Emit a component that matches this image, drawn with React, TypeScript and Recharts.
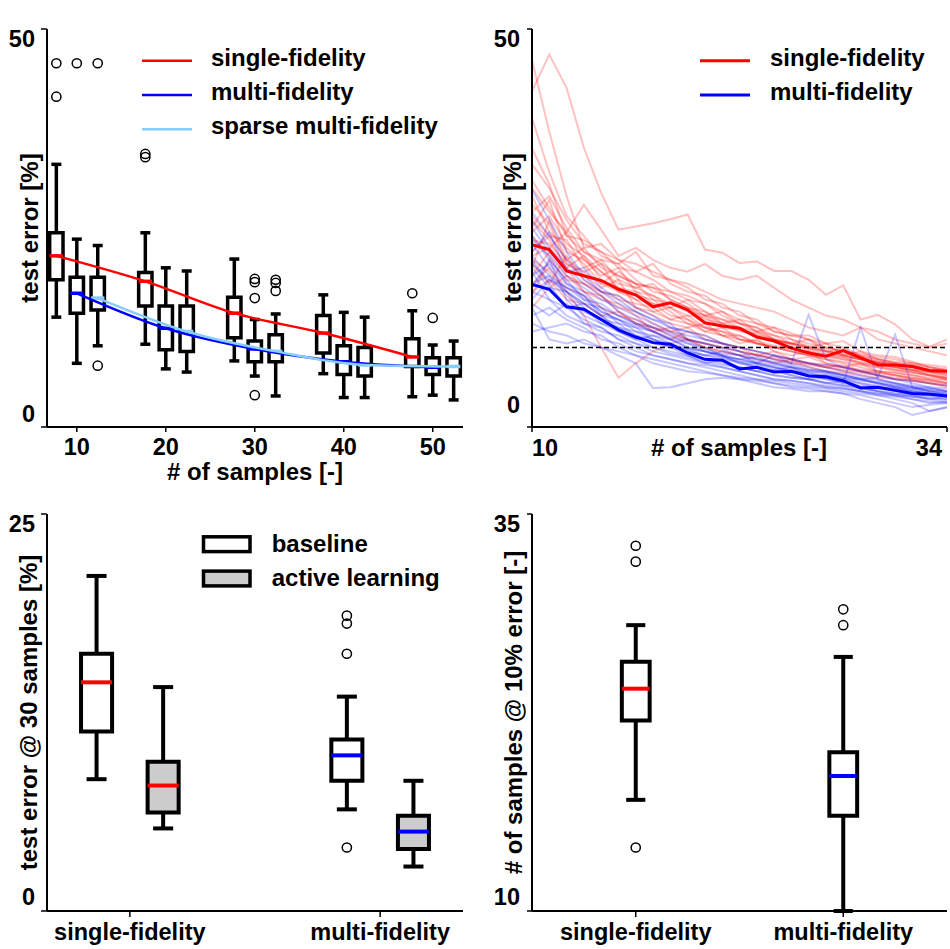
import React from "react";
import {
  ComposedChart,
  Legend,
  Line,
  ReferenceArea,
  ReferenceLine,
  Scatter,
  XAxis,
  YAxis,
} from "recharts";

const FONT = "'Liberation Sans', Arial, Helvetica, sans-serif";
const TXT = { fontFamily: FONT, fontWeight: 700, fontSize: 24, fill: "#000" };
const TICK_TXT = { ...TXT, fontSize: 23.5 };
const RED = "#ff0000";
const BLUE = "#0000ff";
const SKY = "#87cefa";

// ---------- baseline panel (box plots per sample budget) ----------
const sampleGroups = [10, 20, 30, 40, 50];
// [whisker low, q1, median, q3, whisker high]
const singleBase = [
  [13.8, 18.5, 21.5, 24.4, 33.0],
  [10.4, 15.2, 18.3, 19.4, 24.4],
  [8.3, 11.2, 14.3, 16.3, 21.1],
  [6.7, 9.3, 11.8, 14.0, 16.6],
  [3.8, 7.6, 8.8, 11.1, 14.6],
];
const multiBase = [
  [8.0, 14.3, 16.8, 18.8, 23.6],
  [7.3, 9.7, 12.4, 15.2, 20.0],
  [6.4, 8.2, 9.8, 10.8, 13.5],
  [3.7, 6.6, 8.2, 10.2, 14.4],
  [4.0, 6.6, 7.5, 8.7, 10.3],
];
const sparseBase = [
  [10.2, 14.7, 16.2, 18.8, 22.8],
  [6.9, 9.5, 12.0, 15.2, 19.6],
  [3.9, 8.2, 9.5, 11.6, 14.2],
  [3.7, 6.4, 7.8, 10.0, 13.8],
  [3.4, 6.4, 7.6, 8.7, 10.8],
];
const singleBaseOutliers = [[45.7, 41.5], [34.3, 33.9], [], [], [16.8]];
const multiBaseOutliers = [[45.7], [], [18.6, 18.2, 16.2, 4.0], [], [13.7]];
const sparseBaseOutliers = [[45.7, 7.7], [], [18.5, 18.1, 17.1], [], []];

const baseSeries = [
  { name: "single-fidelity", color: RED, offset: -2.3, stats: singleBase, outliers: singleBaseOutliers },
  { name: "multi-fidelity", color: BLUE, offset: 0, stats: multiBase, outliers: multiBaseOutliers },
  { name: "sparse multi-fidelity", color: SKY, offset: 2.35, stats: sparseBase, outliers: sparseBaseOutliers },
];

// ---------- active learning panel (individual runs + means) ----------
const steps = [10, 11, 12, 13, 14, 15, 16, 17, 18, 19, 20, 21, 22, 23, 24, 25, 26, 27, 28, 29, 30, 31, 32, 33, 34];
const singleActiveMean = [22.9, 22.3, 19.6, 19.0, 18.4, 17.3, 16.6, 15.1, 15.6, 14.7, 13.1, 12.7, 12.4, 11.3, 10.8, 9.9, 9.3, 8.9, 9.6, 8.7, 7.8, 7.8, 7.6, 7.1, 7.0];
const multiActiveMean = [17.9, 17.3, 15.1, 14.8, 13.5, 12.2, 11.3, 10.6, 10.4, 9.3, 8.5, 8.4, 7.3, 7.5, 6.9, 7.0, 6.4, 6.3, 5.8, 4.9, 5.0, 4.6, 4.2, 4.1, 3.9];
const singleActiveRuns = [
  [42.2, 46.8, 42.6, 35.1, 29.4, 24.8, 25.2, 25.6, 26.1, 26.7, 22.3, 21.9, 20.6, 20.8, 19.6, 19.6, 18.5, 16.6, 17.8, 13.5, 14.1, 12.9, 11.0, 10.1, 11.0],
  [46.1, 37.1, 29.0, 22.5, 23.0, 21.0, 19.5, 20.5, 18.0, 17.0, 16.5, 15.0, 14.5, 13.0, 12.5, 11.8, 11.0, 10.5, 10.8, 9.5, 9.0, 8.8, 8.2, 7.5, 7.2],
  [38.8, 32.0, 26.5, 24.0, 21.5, 20.5, 22.0, 19.0, 18.5, 17.5, 16.0, 15.5, 14.0, 13.5, 12.0, 11.5, 11.0, 10.0, 9.5, 9.0, 8.5, 8.0, 7.8, 7.5, 7.0],
  [30.0, 27.0, 24.5, 27.9, 24.8, 21.5, 22.5, 21.0, 20.0, 19.5, 20.5, 19.0, 18.5, 19.0, 17.5, 16.0, 15.0, 14.0, 13.5, 12.5, 11.0, 10.5, 10.0, 9.5, 9.0],
  [25.0, 28.5, 22.0, 21.0, 19.0, 20.0, 17.0, 16.5, 15.0, 16.0, 14.5, 13.0, 13.5, 12.0, 11.5, 10.5, 11.0, 9.5, 9.0, 9.5, 8.5, 8.0, 7.5, 7.0, 6.8],
  [22.0, 24.0, 23.5, 20.0, 21.0, 18.5, 17.5, 18.0, 16.0, 15.0, 14.0, 14.5, 13.0, 12.5, 11.0, 10.5, 10.0, 10.5, 9.0, 8.5, 8.0, 7.5, 7.2, 6.5, 6.0],
  [20.0, 26.0, 21.0, 19.5, 18.0, 17.0, 16.0, 14.5, 15.0, 13.5, 12.0, 12.5, 11.0, 10.5, 10.0, 9.5, 9.0, 8.5, 8.0, 7.5, 7.0, 6.8, 6.5, 6.0, 5.8],
  [28.0, 25.5, 20.5, 19.0, 17.5, 18.5, 15.0, 14.0, 13.0, 12.5, 13.0, 11.5, 10.5, 11.0, 9.5, 9.0, 9.5, 8.0, 7.5, 8.0, 7.0, 6.5, 6.2, 6.0, 5.5],
  [24.0, 21.5, 19.0, 18.0, 16.5, 14.5, 13.0, 12.5, 11.5, 11.0, 10.5, 10.0, 9.5, 9.0, 8.8, 8.5, 8.0, 7.8, 7.5, 7.0, 6.8, 6.5, 6.2, 5.8, 5.5],
  [19.0, 22.0, 20.0, 17.0, 16.0, 15.5, 14.0, 12.0, 11.0, 12.0, 11.5, 10.5, 10.0, 9.0, 9.5, 8.5, 8.0, 7.5, 7.8, 7.0, 6.5, 6.0, 5.8, 5.5, 5.0],
  [26.5, 24.0, 21.0, 22.5, 20.0, 19.0, 18.0, 17.5, 17.0, 16.0, 15.5, 14.0, 13.0, 12.0, 12.5, 11.0, 10.0, 9.5, 9.8, 8.8, 8.2, 7.8, 7.5, 7.0, 6.5],
  [21.0, 19.5, 17.0, 14.0, 10.0, 6.2, 8.0, 9.5, 10.5, 11.0, 10.0, 9.5, 9.0, 8.5, 8.0, 8.5, 7.5, 7.0, 6.8, 6.5, 6.2, 6.0, 5.8, 5.5, 5.2],
  [33.0, 30.0, 26.0, 23.0, 22.0, 20.0, 19.5, 18.5, 17.0, 16.5, 15.5, 14.5, 13.5, 13.0, 12.0, 11.5, 11.5, 10.5, 10.0, 9.0, 8.5, 8.2, 8.0, 7.5, 7.2],
  [17.0, 18.5, 16.0, 15.5, 14.0, 14.5, 13.0, 12.0, 12.5, 11.0, 10.0, 9.5, 9.0, 9.2, 8.5, 8.0, 7.8, 7.5, 7.0, 6.8, 6.5, 6.2, 6.0, 5.5, 5.2],
  [23.5, 23.0, 20.5, 19.5, 20.5, 17.0, 16.5, 16.0, 14.5, 13.0, 12.5, 12.0, 11.5, 10.5, 10.0, 10.0, 9.5, 9.0, 8.5, 8.2, 7.8, 7.5, 7.2, 7.0, 6.8],
  [27.0, 29.0, 25.0, 22.0, 21.0, 20.5, 18.5, 17.0, 16.5, 15.5, 14.0, 13.5, 12.5, 12.0, 11.0, 10.5, 10.0, 9.8, 9.0, 8.5, 8.0, 7.5, 7.0, 6.8, 6.2],
  [31.0, 27.5, 24.0, 23.5, 22.0, 21.0, 20.5, 19.5, 18.5, 18.0, 17.0, 16.0, 15.5, 15.0, 14.5, 13.5, 12.5, 12.0, 11.5, 12.5, 12.0, 11.0, 10.5, 10.0, 10.5],
  [18.0, 20.0, 17.5, 16.5, 15.0, 14.0, 13.5, 12.5, 12.0, 11.0, 10.5, 10.0, 9.5, 9.0, 8.5, 8.2, 8.0, 7.5, 7.2, 7.0, 6.8, 6.5, 6.0, 5.8, 5.5],
  [15.0, 17.5, 19.0, 17.0, 16.5, 15.0, 14.5, 13.0, 12.0, 12.5, 11.0, 10.5, 10.0, 9.5, 9.0, 8.5, 8.8, 8.0, 7.5, 7.2, 7.0, 6.8, 6.5, 6.2, 6.0],
  [20.5, 18.0, 21.5, 18.5, 17.0, 16.0, 15.5, 15.0, 13.5, 14.0, 12.5, 11.5, 11.0, 10.5, 10.0, 9.5, 9.0, 8.8, 8.5, 8.0, 7.8, 7.2, 7.0, 6.5, 6.2],
  [24.5, 26.5, 23.0, 21.5, 19.5, 18.0, 17.5, 16.5, 15.5, 14.5, 14.0, 13.0, 12.5, 11.5, 11.0, 10.2, 9.8, 9.2, 8.8, 8.5, 8.0, 7.6, 7.2, 6.9, 6.5],
  [29.0, 24.5, 22.5, 20.5, 18.0, 19.5, 18.0, 16.0, 15.5, 15.0, 13.5, 13.0, 12.0, 11.8, 11.0, 10.5, 10.2, 9.5, 9.2, 8.8, 8.2, 7.8, 7.5, 7.2, 7.0],
  [16.5, 21.0, 18.5, 18.0, 17.0, 16.5, 15.0, 14.5, 13.5, 13.0, 12.0, 11.5, 11.5, 10.5, 10.0, 9.5, 9.0, 8.5, 8.2, 7.8, 7.5, 7.0, 6.8, 6.5, 6.0],
  [35.0, 30.5, 24.0, 22.0, 20.5, 19.0, 18.0, 17.5, 16.0, 15.0, 14.5, 13.5, 13.0, 12.5, 11.5, 11.0, 10.5, 10.0, 9.5, 9.2, 8.8, 8.5, 8.0, 7.8, 7.5],
  [21.5, 22.5, 24.5, 21.0, 19.5, 17.5, 16.0, 15.5, 14.0, 13.5, 12.5, 12.0, 11.0, 10.8, 10.2, 9.8, 9.5, 9.0, 8.8, 8.0, 7.5, 7.2, 6.8, 6.5, 6.2],
  [26.0, 23.5, 20.0, 21.5, 18.5, 17.5, 17.0, 15.5, 15.0, 14.0, 13.8, 12.5, 12.2, 11.5, 10.8, 10.5, 9.8, 9.5, 9.0, 8.5, 8.2, 8.0, 7.8, 7.0, 6.8],
];
const multiActiveRuns = [
  [27.0, 24.0, 21.0, 18.5, 17.0, 16.5, 15.0, 14.0, 12.5, 12.0, 11.5, 10.5, 10.0, 9.5, 9.0, 8.5, 8.0, 7.5, 7.0, 6.5, 6.0, 5.5, 5.0, 4.8, 4.5],
  [22.0, 24.5, 19.5, 20.0, 17.5, 16.0, 14.5, 13.5, 13.0, 11.0, 10.5, 10.0, 9.5, 8.5, 8.0, 7.5, 7.2, 7.0, 6.5, 6.0, 5.5, 5.0, 4.5, 4.2, 4.0],
  [19.0, 20.5, 18.0, 17.0, 15.0, 14.0, 13.0, 12.0, 11.0, 10.5, 9.5, 9.0, 8.5, 8.0, 9.0, 8.0, 14.1, 8.5, 7.5, 7.0, 6.5, 6.0, 5.5, 5.0, 4.5],
  [17.0, 16.0, 15.0, 13.5, 12.5, 11.0, 10.0, 9.0, 8.5, 8.0, 7.8, 7.5, 7.0, 6.5, 6.0, 5.8, 5.5, 5.2, 5.0, 4.5, 4.2, 4.0, 3.8, 3.5, 3.2],
  [13.0, 12.0, 11.5, 10.5, 10.0, 9.0, 8.0, 4.9, 5.0, 5.5, 6.0, 6.2, 6.0, 5.5, 5.0, 4.8, 4.5, 4.5, 4.2, 4.0, 3.5, 3.0, 2.5, 2.8, 3.0],
  [15.0, 11.0, 10.5, 11.0, 10.0, 9.5, 9.0, 8.0, 7.5, 7.0, 6.8, 6.5, 6.0, 5.8, 5.5, 5.2, 5.0, 4.8, 4.5, 4.2, 4.0, 3.5, 3.0, 2.0, 2.5],
  [20.0, 17.5, 17.0, 15.5, 14.0, 12.5, 12.0, 11.0, 10.0, 9.5, 9.0, 8.5, 8.2, 7.5, 7.0, 6.8, 6.5, 6.0, 5.5, 12.5, 6.0, 5.5, 5.0, 4.5, 4.2],
  [24.0, 21.0, 18.5, 16.0, 15.5, 14.0, 13.0, 12.5, 11.5, 10.5, 10.0, 9.0, 8.5, 8.8, 8.0, 7.5, 7.0, 6.8, 6.5, 6.0, 6.2, 11.6, 5.0, 4.5, 4.0],
  [18.0, 19.0, 16.5, 14.5, 13.5, 13.0, 11.5, 10.5, 10.0, 9.0, 8.5, 8.0, 7.5, 7.0, 6.5, 6.2, 6.0, 5.5, 5.2, 5.0, 4.5, 4.2, 4.0, 3.5, 3.8],
  [21.0, 18.0, 15.0, 15.5, 14.0, 12.0, 11.0, 10.0, 9.5, 9.0, 8.0, 8.5, 7.5, 7.0, 7.2, 6.5, 6.0, 5.5, 5.8, 5.0, 4.5, 4.0, 3.5, 3.0, 3.2],
  [16.0, 18.5, 17.5, 16.0, 14.5, 13.5, 12.5, 12.0, 11.0, 10.0, 9.5, 9.0, 8.0, 7.5, 7.0, 6.5, 6.0, 6.2, 5.5, 5.0, 4.8, 4.5, 4.2, 4.0, 3.8],
  [25.0, 22.0, 19.0, 17.5, 16.0, 15.0, 14.0, 13.0, 12.0, 11.5, 11.0, 10.5, 9.5, 9.0, 8.5, 8.0, 7.5, 7.0, 6.5, 6.0, 5.5, 5.2, 5.0, 4.8, 4.5],
  [12.0, 12.5, 13.0, 12.0, 11.5, 10.0, 9.0, 8.5, 8.0, 7.5, 7.0, 6.5, 6.2, 6.0, 5.5, 5.0, 4.8, 4.5, 4.2, 3.5, 3.0, 2.5, 1.5, 2.0, 2.5],
  [19.5, 16.0, 14.0, 13.0, 12.0, 11.5, 10.5, 9.5, 9.0, 8.5, 8.0, 7.5, 7.0, 6.5, 6.0, 5.8, 5.5, 5.0, 4.8, 4.5, 4.2, 4.0, 3.8, 3.6, 3.5],
  [14.0, 15.0, 13.5, 12.5, 11.0, 10.5, 9.5, 9.0, 8.5, 8.0, 7.5, 7.0, 6.5, 6.0, 5.8, 5.5, 5.2, 5.0, 4.8, 4.5, 4.0, 3.8, 3.5, 3.2, 3.0],
  [23.0, 20.0, 17.0, 15.0, 13.0, 12.0, 11.0, 11.5, 10.5, 9.5, 9.0, 9.5, 9.0, 8.0, 7.5, 7.0, 6.5, 6.5, 6.0, 5.5, 5.0, 4.8, 4.5, 4.2, 4.0],
  [29.8, 26.0, 22.0, 19.0, 17.0, 15.5, 14.5, 13.5, 12.5, 12.0, 11.0, 10.5, 10.0, 9.5, 9.0, 8.5, 8.0, 7.8, 7.5, 7.0, 6.5, 6.0, 5.8, 5.5, 5.2],
  [21.5, 19.0, 17.5, 16.5, 14.5, 13.5, 12.0, 11.5, 11.0, 10.0, 9.5, 9.0, 8.2, 8.0, 7.5, 7.0, 6.8, 6.2, 6.0, 5.5, 5.2, 5.0, 4.6, 4.2, 4.0],
  [17.5, 21.0, 16.0, 14.0, 13.0, 12.5, 11.5, 11.0, 10.5, 9.8, 9.0, 8.8, 8.0, 7.8, 7.2, 7.5, 6.5, 6.0, 5.8, 5.2, 5.0, 4.8, 4.4, 4.2, 3.8],
  [26.0, 22.5, 20.0, 18.0, 16.5, 14.5, 13.5, 12.5, 11.8, 11.0, 10.5, 9.8, 9.0, 8.5, 8.2, 7.8, 7.2, 7.0, 6.6, 6.2, 5.8, 5.5, 5.2, 5.0, 4.8],
  [15.5, 14.0, 15.5, 13.0, 12.5, 11.0, 10.5, 10.0, 9.2, 8.8, 8.2, 7.8, 7.5, 7.0, 6.5, 6.2, 6.0, 5.6, 5.2, 4.8, 4.5, 4.2, 4.0, 3.8, 3.5],
  [20.5, 18.5, 17.0, 15.5, 15.0, 13.0, 12.5, 11.0, 10.2, 9.8, 9.5, 8.8, 8.5, 8.0, 7.5, 7.2, 6.8, 6.5, 6.2, 5.8, 5.6, 5.2, 4.8, 4.5, 4.2],
  [23.5, 21.5, 18.0, 16.5, 14.0, 13.5, 12.8, 12.0, 11.2, 10.8, 9.8, 9.2, 9.0, 8.2, 7.8, 7.5, 7.0, 6.8, 6.2, 6.0, 5.5, 5.0, 4.8, 4.6, 4.4],
];
const targetError = 10;

// ---------- error @ 30 samples panel ----------
const methods = ["single-fidelity", "multi-fidelity"];
const methodColors = [RED, BLUE];
const errAt30Baseline = [
  [8.3, 11.3, 14.4, 16.2, 21.1],
  [6.4, 8.2, 9.8, 10.8, 13.5],
];
const errAt30Active = [
  [5.2, 6.2, 7.9, 9.4, 14.1],
  [2.8, 3.9, 5.0, 6.0, 8.2],
];
const errAt30BaselineOutliers = [[], [18.6, 18.1, 16.2, 4.0]];
const errAt30ActiveOutliers = [[], []];
const errAt30Series = [
  { name: "baseline", fill: "#ffffff", offset: -0.133, stats: errAt30Baseline, outliers: errAt30BaselineOutliers },
  { name: "active learning", fill: "#cccccc", offset: 0.133, stats: errAt30Active, outliers: errAt30ActiveOutliers },
];

// ---------- samples needed for 10% error ----------
const samplesTo10 = [
  [17.0, 22.0, 24.0, 25.7, 28.0],
  [10.0, 16.0, 18.5, 20.0, 26.0],
];
const samplesTo10Outliers = [[33.0, 32.0, 14.0], [29.0, 28.0]];

// ---------- helpers ----------
const ring = (p: any) => (
  <circle cx={p.cx} cy={p.cy} r={4.6} fill="none" stroke="#000" strokeWidth={1.5} />
);

function boxMarks(id: string, x: number, s: number[], half: number, cap: number, median: string, fill: string, lw: number) {
  const [lo, q1, med, q3, hi] = s;
  const seg = (k: string, x1: number, y1: number, x2: number, y2: number, stroke: string) => (
    <ReferenceLine
      key={id + k}
      segment={[{ x: x1, y: y1 }, { x: x2, y: y2 }]}
      stroke={stroke}
      strokeWidth={lw}
      ifOverflow="visible"
    />
  );
  return [
    seg("wl", x, lo, x, q1, "#000"),
    seg("wh", x, q3, x, hi, "#000"),
    seg("cl", x - cap, lo, x + cap, lo, "#000"),
    seg("ch", x - cap, hi, x + cap, hi, "#000"),
    <ReferenceArea
      key={id + "box"}
      x1={x - half}
      x2={x + half}
      y1={q1}
      y2={q3}
      fill={fill}
      fillOpacity={1}
      stroke="#000"
      strokeWidth={lw}
      ifOverflow="visible"
    />,
    seg("med", x - half, med, x + half, med, median),
  ];
}

function outlierPoints(x: number, ys: number[]) {
  return ys.map((y) => ({ x, y }));
}

function yTick(top: number, belowTop: number, aboveBottom: number) {
  return (p: any) => {
    const v = p.payload.value;
    return (
      <text x={p.x} y={v === top ? p.y + belowTop : p.y - aboveBottom} textAnchor="end" {...TICK_TXT}>
        {v}
      </text>
    );
  };
}

function xTick(fmt: (v: number) => string, anchor: (v: number) => string, drop: number) {
  return (p: any) => (
    <text x={p.x} y={p.y + drop} textAnchor={anchor(p.payload.value)} {...TICK_TXT}>
      {fmt(p.payload.value)}
    </text>
  );
}

const spine = { stroke: "#000", strokeWidth: 2 };
const frame = { stroke: "#555", strokeWidth: 1.5 };
const tickLine = { stroke: "#000", strokeWidth: 1.5 };

function frameAxes(xDomain: number[], yDomain: number[], title?: string, titleX?: number) {
  return [
    <XAxis
      key="fx"
      xAxisId="top"
      orientation="top"
      type="number"
      domain={xDomain}
      allowDataOverflow
      height={0}
      tick={false}
      tickLine={false}
      axisLine={frame}
      label={
        title
          ? {
              content: () => (
                <text x={titleX} y={20} textAnchor="middle" {...TXT}>
                  {title}
                </text>
              ),
            }
          : undefined
      }
    />,
    <YAxis
      key="fy"
      yAxisId="right"
      orientation="right"
      type="number"
      domain={yDomain}
      allowDataOverflow
      width={0}
      tick={false}
      tickLine={false}
      axisLine={frame}
    />,
  ];
}

function yTitle(text: string, x: number, y: number) {
  return {
    content: () => (
      <text transform={`translate(${x},${y}) rotate(-90)`} textAnchor="middle" {...TXT}>
        {text}
      </text>
    ),
  };
}

function xTitle(text: string, x: number, y: number) {
  return {
    content: () => (
      <text x={x} y={y} textAnchor="middle" {...TXT}>
        {text}
      </text>
    ),
  };
}

// ---------- panels ----------
function BaselinePanel() {
  const xDomain = [6.65, 53.4];
  return (
    <ComposedChart width={475} height={490} margin={{ top: 29, right: 12, bottom: 0, left: 0 }}>
      <XAxis
        dataKey="x"
        type="number"
        domain={xDomain}
        allowDataOverflow
        ticks={sampleGroups}
        height={63}
        tickSize={5}
        tickMargin={8}
        tickLine={tickLine}
        axisLine={spine}
        tick={xTick((v) => String(v), () => "middle", 15)}
        label={xTitle("# of samples [-]", 255, 480)}
      />
      <YAxis
        type="number"
        domain={[0, 50]}
        allowDataOverflow
        ticks={[0, 50]}
        width={47}
        tickSize={6}
        tickMargin={6}
        tickLine={tickLine}
        axisLine={spine}
        tick={yTick(50, 18, 5.5)}
        label={yTitle("test error [%]", 37.5, 228)}
      />
      {frameAxes(xDomain, [0, 50], "baseline", 255)}
      {baseSeries.map((s) =>
        sampleGroups.map((g, i) => boxMarks(`${s.name}-${g}`, g + s.offset, s.stats[i], 0.75, 0.56, s.color, "none", 3.5))
      )}
      {baseSeries.map((s) => (
        <Line
          key={s.name}
          data={sampleGroups.map((g, i) => ({ x: g + s.offset, y: s.stats[i][2] }))}
          dataKey="y"
          type="monotone"
          stroke={s.color}
          strokeWidth={2.5}
          dot={false}
          activeDot={false}
          isAnimationActive={false}
        />
      ))}
      {baseSeries.map((s) => (
        <Scatter
          key={s.name + "-out"}
          data={sampleGroups.flatMap((g, i) => outlierPoints(g + s.offset, s.outliers[i]))}
          dataKey="y"
          shape={ring}
          isAnimationActive={false}
        />
      ))}
      <Legend
        verticalAlign="middle"
        align="center"
        wrapperStyle={{ left: 140, top: 40, width: 330, height: 110 }}
        content={() => (
          <svg width={330} height={110}>
            {baseSeries.map((s, i) => (
              <g key={s.name}>
                <line x1={2} x2={52} y1={20.7 + 34.3 * i} y2={20.7 + 34.3 * i} stroke={s.color} strokeWidth={2.5} />
                <text x={71} y={25.7 + 34.3 * i} {...TXT}>
                  {s.name}
                </text>
              </g>
            ))}
          </svg>
        )}
      />
    </ComposedChart>
  );
}

function ActivePanel() {
  const xDomain = [10, 34];
  const toPts = (vals: number[]) => steps.map((s, i) => ({ x: s, y: vals[i] }));
  const means = [
    { name: "single-fidelity", color: RED, vals: singleActiveMean },
    { name: "multi-fidelity", color: BLUE, vals: multiActiveMean },
  ];
  return (
    <ComposedChart width={475} height={490} margin={{ top: 29, right: 3, bottom: 0, left: 0 }}>
      <XAxis
        dataKey="x"
        type="number"
        domain={xDomain}
        allowDataOverflow
        ticks={[10, 34]}
        height={63}
        tickSize={5}
        tickMargin={8}
        tickLine={tickLine}
        axisLine={spine}
        tick={xTick((v) => String(v), (v) => (v === 10 ? "start" : "end"), 15.5)}
        label={xTitle("# of samples [-]", 264, 456)}
      />
      <YAxis
        type="number"
        domain={[0, 50]}
        allowDataOverflow
        ticks={[0, 50]}
        width={57}
        tickSize={5}
        tickMargin={7}
        tickLine={tickLine}
        axisLine={spine}
        tick={yTick(50, 18, 14)}
        label={yTitle("test error [%]", 45.7, 228)}
      />
      {frameAxes(xDomain, [0, 50], "active learning", 264)}
      {singleActiveRuns.map((r, i) => (
        <Line
          key={"r" + i}
          data={toPts(r)}
          dataKey="y"
          stroke={RED}
          strokeOpacity={0.24}
          strokeWidth={2}
          dot={false}
          activeDot={false}
          isAnimationActive={false}
        />
      ))}
      {multiActiveRuns.map((r, i) => (
        <Line
          key={"b" + i}
          data={toPts(r)}
          dataKey="y"
          stroke={BLUE}
          strokeOpacity={0.22}
          strokeWidth={2}
          dot={false}
          activeDot={false}
          isAnimationActive={false}
        />
      ))}
      {means.map((m) => (
        <Line
          key={m.name}
          data={toPts(m.vals)}
          dataKey="y"
          stroke={m.color}
          strokeWidth={3}
          dot={false}
          activeDot={false}
          isAnimationActive={false}
        />
      ))}
      <ReferenceLine y={targetError} stroke="#000" strokeWidth={1.5} strokeDasharray="5 3" />
      <Legend
        verticalAlign="middle"
        align="center"
        wrapperStyle={{ left: 222, top: 40, width: 250, height: 76 }}
        content={() => (
          <svg width={250} height={76}>
            {means.map((m, i) => (
              <g key={m.name}>
                <line x1={3} x2={53} y1={20.7 + 34.3 * i} y2={20.7 + 34.3 * i} stroke={m.color} strokeWidth={3} />
                <text x={73} y={25.7 + 34.3 * i} {...TXT}>
                  {m.name}
                </text>
              </g>
            ))}
          </svg>
        )}
      />
    </ComposedChart>
  );
}

function ErrorAt30Panel() {
  const xDomain = [0.669, 2.331];
  return (
    <ComposedChart width={475} height={459} margin={{ top: 24, right: 12, bottom: 0, left: 0 }}>
      <XAxis
        dataKey="x"
        type="number"
        domain={xDomain}
        allowDataOverflow
        ticks={[1, 2]}
        height={38}
        tickSize={6}
        tickMargin={6}
        tickLine={tickLine}
        axisLine={spine}
        tick={xTick((v) => methods[v - 1], () => "middle", 17)}
      />
      <YAxis
        type="number"
        domain={[0, 25]}
        allowDataOverflow
        ticks={[0, 25]}
        width={47}
        tickSize={6}
        tickMargin={6}
        tickLine={tickLine}
        axisLine={spine}
        tick={yTick(25, 18, 6)}
        label={yTitle("test error @ 30 samples [%]", 37.3, 222.5)}
      />
      {frameAxes(xDomain, [0, 25])}
      {errAt30Series.map((s) =>
        methods.map((m, i) => boxMarks(`${s.name}-${m}`, i + 1 + s.offset, s.stats[i], 0.062, 0.04, methodColors[i], s.fill, 4))
      )}
      {errAt30Series.map((s) => (
        <Scatter
          key={s.name + "-out"}
          data={methods.flatMap((m, i) => outlierPoints(i + 1 + s.offset, s.outliers[i]))}
          dataKey="y"
          shape={ring}
          isAnimationActive={false}
        />
      ))}
      <Legend
        verticalAlign="middle"
        align="center"
        wrapperStyle={{ left: 200, top: 34, width: 260, height: 74 }}
        content={() => (
          <svg width={260} height={74}>
            {errAt30Series.map((s, i) => (
              <g key={s.name}>
                <rect x={3.5} y={12.8 + 34.3 * i} width={46.5} height={14.8} fill={s.fill} stroke="#000" strokeWidth={3.5} />
                <text x={71.7} y={27.7 + 34.3 * i} {...TXT}>
                  {s.name}
                </text>
              </g>
            ))}
          </svg>
        )}
      />
    </ComposedChart>
  );
}

function SamplesPanel() {
  const xDomain = [0.5, 2.5];
  return (
    <ComposedChart width={475} height={459} margin={{ top: 24, right: 3, bottom: 0, left: 0 }}>
      <XAxis
        dataKey="x"
        type="number"
        domain={xDomain}
        allowDataOverflow
        ticks={[1, 2]}
        height={38}
        tickSize={6}
        tickMargin={6}
        tickLine={tickLine}
        axisLine={spine}
        tick={xTick((v) => methods[v - 1], () => "middle", 17)}
      />
      <YAxis
        type="number"
        domain={[10, 35]}
        allowDataOverflow
        ticks={[10, 35]}
        width={57}
        tickSize={5}
        tickMargin={7}
        tickLine={tickLine}
        axisLine={spine}
        tick={yTick(35, 18, 6)}
        label={yTitle("# of samples @ 10% error [-]", 46.7, 222.5)}
      />
      {frameAxes(xDomain, [10, 35])}
      {methods.map((m, i) => boxMarks(`n-${m}`, i + 1, samplesTo10[i], 0.067, 0.046, methodColors[i], "none", 4))}
      <Scatter
        data={methods.flatMap((m, i) => outlierPoints(i + 1, samplesTo10Outliers[i]))}
        dataKey="y"
        shape={ring}
        isAnimationActive={false}
      />
    </ComposedChart>
  );
}

export default function App() {
  return (
    <div style={{ position: "absolute", left: 0, top: 0, width: 950, height: 949, background: "#fff", fontFamily: FONT }}>
      <div style={{ position: "absolute", left: 0, top: 0 }}>
        <BaselinePanel />
      </div>
      <div style={{ position: "absolute", left: 475, top: 0 }}>
        <ActivePanel />
      </div>
      <div style={{ position: "absolute", left: 0, top: 490 }}>
        <ErrorAt30Panel />
      </div>
      <div style={{ position: "absolute", left: 475, top: 490 }}>
        <SamplesPanel />
      </div>
    </div>
  );
}
